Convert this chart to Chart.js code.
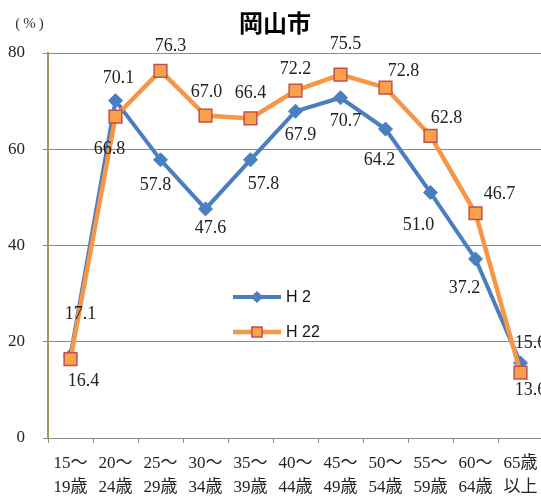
<!DOCTYPE html>
<html lang="ja">
<head>
<meta charset="utf-8">
<title>岡山市</title>
<script src="https://cdn.jsdelivr.net/npm/chart.js@4.4.1/dist/chart.umd.min.js"></script>
<style>
    html, body { margin: 0; padding: 0; background: #fff; overflow: hidden; }
    #wrap { width: 541px; height: 498px; overflow: hidden; }
    canvas { display: block; }
</style>
</head>
<body>
<div id="wrap"><canvas id="rateChart" width="545" height="498"></canvas></div>
<script>
// Age groups (two-line labels)
const ageGroups = [
    ['15～', '19歳'], ['20～', '24歳'], ['25～', '29歳'], ['30～', '34歳'],
    ['35～', '39歳'], ['40～', '44歳'], ['45～', '49歳'], ['50～', '54歳'],
    ['55～', '59歳'], ['60～', '64歳'], ['65歳', '以上']
];

// Rates (%) for each year
const h2Values = [17.1, 70.1, 57.8, 47.6, 57.8, 67.9, 70.7, 64.2, 51.0, 37.2, 15.6];
const h22Values = [16.4, 66.8, 76.3, 67.0, 66.4, 72.2, 75.5, 72.8, 62.8, 46.7, 13.6];

const yTicks = [0, 20, 40, 60, 80];

// Where each value label sits relative to its point [dx, dy]
const h2LabelShift = [[10, -41], [3, -22], [-5, 25], [5, 19], [13, 24], [5, 24], [5, 24], [-6, 31], [-12, 33], [-11, 29], [10, -20]];
const h22LabelShift = [[13, 22], [-6, 33], [10, -25], [1, -23], [0, -25], [0, -21], [5, -30], [18, -16], [16, -18], [24, -19], [10, 18]];

const BLUE = '#4a7ebf';
const ORANGE = '#f79646';
const ORANGE_EDGE = '#c0504d';
const SERIF = "'Liberation Serif', 'Noto Sans CJK JP', serif";
const PLOT_RIGHT = 543;

// Let the plot run right up to (and slightly past) the window edge
const stretchPlot = {
    id: 'stretchPlot',
    afterLayout(chart) {
        const area = chart.chartArea;
        const x = chart.scales.x;
        area.right = PLOT_RIGHT;
        area.width = area.right - area.left;
        x.right = PLOT_RIGHT;
        x.width = x.right - x.left;
        x.configure();
    }
};

// Value labels next to each point
const valueLabels = {
    id: 'valueLabels',
    afterDatasetsDraw(chart) {
        const ctx = chart.ctx;
        ctx.save();
        ctx.font = '18px ' + SERIF;
        ctx.fillStyle = '#222';
        ctx.textAlign = 'center';
        ctx.textBaseline = 'middle';
        chart.data.datasets.forEach((ds, di) => {
            const meta = chart.getDatasetMeta(di);
            meta.data.forEach((pt, i) => {
                const shift = ds.labelShift[i];
                ctx.fillText(ds.data[i].toFixed(1), pt.x + shift[0], pt.y + shift[1]);
            });
        });
        ctx.restore();
    }
};

// Title, unit and the legend inside the plot
const decorations = {
    id: 'decorations',
    afterDraw(chart) {
        const ctx = chart.ctx;
        const area = chart.chartArea;
        ctx.save();

        ctx.fillStyle = '#000';
        ctx.textAlign = 'center';
        ctx.textBaseline = 'middle';
        ctx.font = "bold 24px 'Noto Sans CJK JP', sans-serif";
        ctx.fillText('岡山市', 275, 23);

        ctx.font = '15px ' + SERIF;
        ctx.fillStyle = '#333';
        ctx.letterSpacing = '3px';
        ctx.fillText('(%)', 31, 24);
        ctx.letterSpacing = '0px';

        const lx = area.left + 185;
        const items = [
            { ds: chart.data.datasets[0], y: 297 },
            { ds: chart.data.datasets[1], y: 332 }
        ];
        items.forEach(item => {
            const ds = item.ds;
            ctx.strokeStyle = ds.borderColor;
            ctx.lineWidth = ds.borderWidth;
            ctx.beginPath();
            ctx.moveTo(lx, item.y);
            ctx.lineTo(lx + 48, item.y);
            ctx.stroke();
            ctx.fillStyle = ds.pointBackgroundColor;
            ctx.strokeStyle = ds.pointBorderColor;
            ctx.lineWidth = ds.pointBorderWidth;
            Chart.helpers.drawPoint(ctx, {
                pointStyle: ds.pointStyle,
                radius: ds.pointRadius * 0.8,
                borderWidth: ds.pointBorderWidth
            }, lx + 24, item.y);
            ctx.fillStyle = '#111';
            ctx.textAlign = 'left';
            ctx.font = "16px 'Liberation Sans', Arial, sans-serif";
            ctx.fillText(ds.label, lx + 53, item.y + 1);
        });
        ctx.restore();
    }
};

const ctx = document.getElementById('rateChart').getContext('2d');
const rateChart = new Chart(ctx, {
    type: 'line',
    data: {
        labels: ageGroups,
        datasets: [{
            label: 'H 2',
            data: h2Values,
            labelShift: h2LabelShift,
            borderColor: BLUE,
            backgroundColor: BLUE,
            borderWidth: 4,
            pointStyle: 'rectRot',
            pointRadius: 7,
            pointBackgroundColor: BLUE,
            pointBorderColor: BLUE,
            pointBorderWidth: 1,
            tension: 0,
            order: 2
        }, {
            label: 'H 22',
            data: h22Values,
            labelShift: h22LabelShift,
            borderColor: ORANGE,
            backgroundColor: ORANGE,
            borderWidth: 4.5,
            pointStyle: 'rect',
            pointRadius: 9,
            pointBackgroundColor: '#f9a04a',
            pointBorderColor: ORANGE_EDGE,
            pointBorderWidth: 1.5,
            tension: 0,
            order: 1
        }]
    },
    options: {
        responsive: false,
        animation: false,
        layout: {
            padding: { top: 53, right: 2, bottom: 0, left: 0 }
        },
        plugins: {
            legend: { display: false },
            title: { display: false },
            tooltip: { enabled: false }
        },
        scales: {
            x: {
                offset: true,
                grid: {
                    offset: true,
                    drawOnChartArea: false,
                    drawTicks: true,
                    tickLength: 5,
                    color: '#8a8a8a'
                },
                border: { color: '#8a8a8a', width: 1 },
                ticks: {
                    autoSkip: false,
                    maxRotation: 0,
                    padding: 8,
                    color: '#222',
                    font: { family: SERIF, size: 17, lineHeight: 1.45 }
                },
                afterFit(scale) { scale.height = 60; }
            },
            y: {
                min: yTicks[0],
                max: yTicks[yTicks.length - 1],
                afterBuildTicks(scale) {
                    scale.ticks = yTicks.map(v => ({ value: v }));
                },
                grid: {
                    color: '#8a8a8a',
                    drawTicks: true,
                    tickLength: 5
                },
                border: { color: '#a39466', width: 2 },
                ticks: {
                    padding: 18,
                    color: '#222',
                    font: { family: SERIF, size: 17 }
                },
                afterFit(scale) { scale.width = 48; }
            }
        }
    },
    plugins: [stretchPlot, valueLabels, decorations]
});
</script>
</body>
</html>
